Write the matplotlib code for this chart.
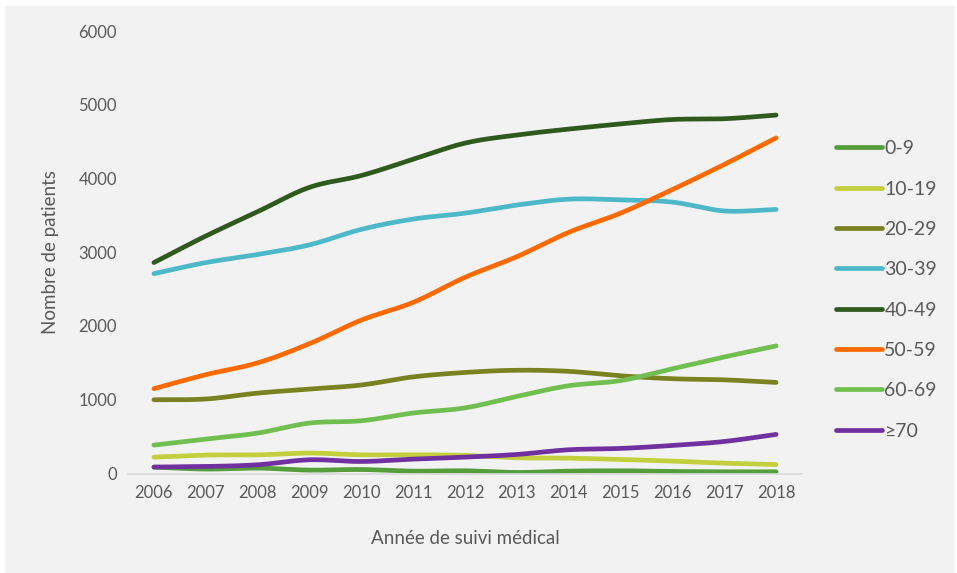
import numpy as np
import matplotlib
matplotlib.use('Agg')
from matplotlib import pyplot as plt
from matplotlib.patches import Rectangle

years = list(range(2006, 2019))

age_0_9 = [87, 60, 73, 46, 54, 32, 37, 14, 32, 37, 28, 23, 23]
age_10_19 = [222, 250, 253, 277, 253, 255, 245, 213, 208, 190, 168, 140, 122]
age_20_29 = [1000, 1010, 1090, 1145, 1200, 1310, 1370, 1400, 1385, 1325, 1285, 1270, 1235]
age_30_39 = [2710, 2860, 2970, 3100, 3310, 3450, 3530, 3640, 3720, 3710, 3680, 3560, 3580]
age_40_49 = [2860, 3220, 3550, 3880, 4040, 4260, 4480, 4590, 4670, 4740, 4800, 4810, 4860]
age_50_59 = [1150, 1340, 1500, 1760, 2080, 2320, 2660, 2940, 3270, 3530, 3850, 4190, 4550]
age_60_69 = [385, 467, 548, 684, 715, 820, 890, 1045, 1190, 1260, 1420, 1580, 1730]
age_70_plus = [87, 95, 118, 186, 163, 195, 222, 258, 322, 340, 380, 434, 530]

labels = ['0-9', '10-19', '20-29', '30-39', '40-49', '50-59', '60-69', '≥70']
series = [age_0_9, age_10_19, age_20_29, age_30_39, age_40_49, age_50_59, age_60_69, age_70_plus]
colors = ['#559e3c', '#c3cf3c', '#7a8121', '#4db8c8', '#2e5a1e', '#ff6a00', '#70bf50', '#7030a0']


def smooth(x, y, n=20):
    # catmull-rom through the yearly points, like a smoothed line in a spreadsheet
    x = np.asarray(x, float)
    y = np.asarray(y, float)
    px = np.concatenate([[2 * x[0] - x[1]], x, [2 * x[-1] - x[-2]]])
    py = np.concatenate([[2 * y[0] - y[1]], y, [2 * y[-1] - y[-2]]])
    xs, ys = [], []
    t = np.linspace(0, 1, n, endpoint=False)
    for i in range(1, len(px) - 2):
        for p, out in ((px, xs), (py, ys)):
            p0, p1, p2, p3 = p[i - 1], p[i], p[i + 1], p[i + 2]
            out.extend(0.5 * (2 * p1 + (-p0 + p2) * t + (2 * p0 - 5 * p1 + 4 * p2 - p3) * t ** 2
                              + (-p0 + 3 * p1 - 3 * p2 + p3) * t ** 3))
    xs.append(x[-1])
    ys.append(y[-1])
    return np.array(xs), np.array(ys)


plt.rcParams['font.family'] = ['Lato', 'DejaVu Sans']

fig = plt.figure(figsize=(9.57, 5.73), dpi=100, facecolor='white')
fig.patches.append(Rectangle((5 / 957, 0), 950 / 957, 567 / 573, transform=fig.transFigure,
                             facecolor='#f2f2f2', edgecolor='none', zorder=-1))

ax = fig.add_axes([128 / 957, 1 - 473.5 / 573, 674 / 957, 442.5 / 573])
ax.set_facecolor('none')

for lab, vals, col in zip(labels, series, colors):
    sx, sy = smooth(years, vals)
    ax.plot(sx, sy, color=col, lw=3.4, solid_capstyle='round', label=lab)

ax.set_xlim(2005.5, 2018.5)
ax.set_ylim(0, 6000)
ax.set_xticks(years)
ax.set_yticks(range(0, 6001, 1000))
ax.tick_params(length=0, labelsize=12, labelcolor='#595959', pad=8)
for s in ['top', 'right', 'left']:
    ax.spines[s].set_visible(False)
ax.spines['bottom'].set_color('#d9d9d9')
ax.spines['bottom'].set_linewidth(1.2)

ax.set_xlabel('Année de suivi médical', fontsize=13.5, color='#595959', labelpad=21)
ax.set_ylabel('Nombre de patients', fontsize=13.5, color='#595959', labelpad=14)

leg = ax.legend(loc='center left', bbox_to_anchor=(1.024, 0.415), frameon=False,
                fontsize=14, labelcolor='#595959', handlelength=2.4, handletextpad=0.1,
                labelspacing=1.2)

fig.savefig('out.png', dpi=100, facecolor='white')
